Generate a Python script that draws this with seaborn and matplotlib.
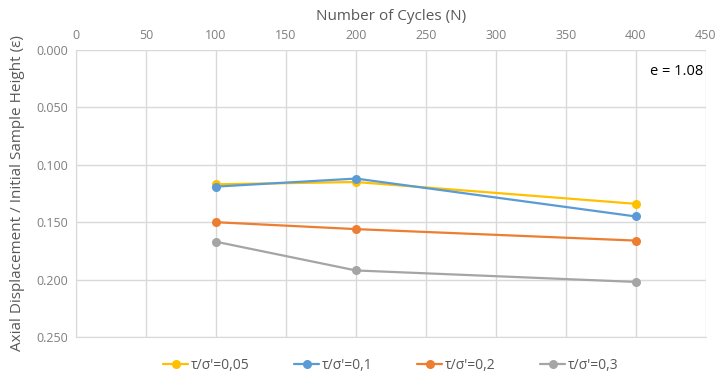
import matplotlib
matplotlib.use("Agg")
import matplotlib.pyplot as plt
import seaborn as sns
import pandas as pd

# values
cycles = [100, 200, 400]
ratio_labels = ["τ/σ'=0,05", "τ/σ'=0,1", "τ/σ'=0,2", "τ/σ'=0,3"]
strain_005 = [0.117, 0.115, 0.134]
strain_01 = [0.119, 0.112, 0.145]
strain_02 = [0.150, 0.156, 0.166]
strain_03 = [0.167, 0.192, 0.202]
colors = ["#FFC000", "#5B9BD5", "#ED7D31", "#A5A5A5"]

rows = []
for lab, vals in zip(ratio_labels, [strain_005, strain_01, strain_02, strain_03]):
    for n, v in zip(cycles, vals):
        rows.append({"N": n, "strain": v, "series": lab})
df = pd.DataFrame(rows)

sns.set_style("white")
plt.rcParams["font.family"] = ["Open Sans", "DejaVu Sans"]

fig = plt.figure(figsize=(7.24, 3.87), dpi=100)
ax = fig.add_axes([0.105, 0.129, 0.870, 0.742])

sns.lineplot(data=df, x="N", y="strain", hue="series", palette=colors,
             marker="o", markersize=6.5, markeredgewidth=0, linewidth=1.6,
             ax=ax)

ax.set_xlim(0, 450)
ax.set_ylim(0.25, 0.0)
ax.set_xticks(range(0, 451, 50))
ax.set_yticks([0.0, 0.05, 0.10, 0.15, 0.20, 0.25])
ax.set_yticklabels([f"{t:.3f}" for t in ax.get_yticks()])
ax.xaxis.tick_top()
ax.xaxis.set_label_position("top")
ax.grid(True, color="#D9D9D9", linewidth=1)
ax.tick_params(axis="both", length=0, labelsize=9, colors="#7F7F7F", pad=6)

for side in ["top", "right"]:
    ax.spines[side].set_visible(False)
for side in ["left", "bottom"]:
    ax.spines[side].set_color("#D9D9D9")

ax.set_xlabel("Number of Cycles (N)", fontsize=11, color="#595959", labelpad=6)
ax.set_ylabel("Axial Displacement / Initial Sample Height (ε)", fontsize=11,
              color="#595959", labelpad=8)

ax.text(410, 0.022, "e = 1.08", fontsize=10.5, color="black", ha="left")

ax.legend(loc="upper center", bbox_to_anchor=(0.5, -0.03), ncol=4,
          frameon=False, fontsize=10, labelcolor="#595959",
          handlelength=1.8, columnspacing=3.2, handletextpad=0.2)

fig.savefig("out.png", dpi=100)
